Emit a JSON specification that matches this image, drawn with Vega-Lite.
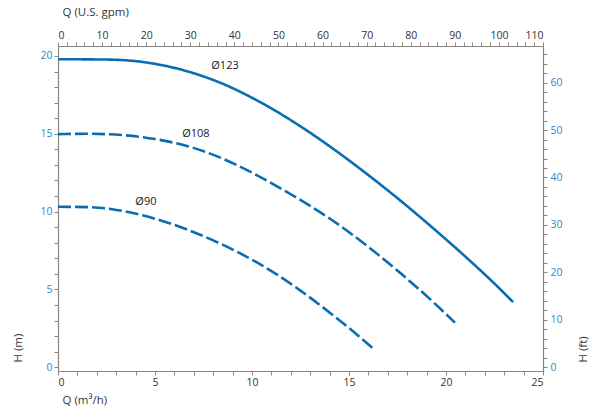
{
  "$schema": "https://vega.github.io/schema/vega-lite/v6.json",
  "width": 485,
  "height": 325,
  "autosize": {"type": "none"},
  "padding": {"left": 58, "top": 46, "right": 53, "bottom": 39},
  "background": "white",
  "config": {
    "view": {"stroke": null},
    "font": "Open Sans",
    "axis": {
      "grid": false,
      "domainColor": "#8a8585",
      "tickColor": "#8a8585",
      "domainWidth": 1.2,
      "tickWidth": 1,
      "tickSize": 4,
      "labelFont": "Open Sans",
      "labelFontSize": 10.5,
      "titleFont": "Open Sans",
      "titleFontWeight": "normal",
      "titleFontSize": 11.5,
      "titleColor": "#333333",
      "labelOverlap": false,
      "labelPadding": 2
    }
  },
  "datasets": {
    "curves": [
      {"curve": "Ø123", "Q": 0, "H": 19.79},
      {"curve": "Ø123", "Q": 2.44, "H": 19.77},
      {"curve": "Ø123", "Q": 3.98, "H": 19.67},
      {"curve": "Ø123", "Q": 5.01, "H": 19.49},
      {"curve": "Ø123", "Q": 6.73, "H": 18.99},
      {"curve": "Ø123", "Q": 8.44, "H": 18.24},
      {"curve": "Ø123", "Q": 10.16, "H": 17.21},
      {"curve": "Ø123", "Q": 11.88, "H": 15.97},
      {"curve": "Ø123", "Q": 14.19, "H": 14.03},
      {"curve": "Ø123", "Q": 15.91, "H": 12.43},
      {"curve": "Ø123", "Q": 17.63, "H": 10.73},
      {"curve": "Ø123", "Q": 19.34, "H": 8.93},
      {"curve": "Ø123", "Q": 21.06, "H": 7.04},
      {"curve": "Ø123", "Q": 22.79, "H": 5.02},
      {"curve": "Ø123", "Q": 23.46, "H": 4.18},
      {"curve": "Ø108", "Q": 0, "H": 14.98},
      {"curve": "Ø108", "Q": 1.58, "H": 15.0},
      {"curve": "Ø108", "Q": 3.3, "H": 14.92},
      {"curve": "Ø108", "Q": 5.01, "H": 14.66},
      {"curve": "Ø108", "Q": 6.73, "H": 14.19},
      {"curve": "Ø108", "Q": 8.44, "H": 13.43},
      {"curve": "Ø108", "Q": 10.16, "H": 12.40},
      {"curve": "Ø108", "Q": 11.88, "H": 11.20},
      {"curve": "Ø108", "Q": 14.19, "H": 9.40},
      {"curve": "Ø108", "Q": 15.91, "H": 7.82},
      {"curve": "Ø108", "Q": 17.63, "H": 6.07},
      {"curve": "Ø108", "Q": 19.34, "H": 4.19},
      {"curve": "Ø108", "Q": 20.46, "H": 2.87},
      {"curve": "Ø90", "Q": 0, "H": 10.31},
      {"curve": "Ø90", "Q": 1.58, "H": 10.29},
      {"curve": "Ø90", "Q": 3.3, "H": 10.05},
      {"curve": "Ø90", "Q": 5.01, "H": 9.54},
      {"curve": "Ø90", "Q": 6.73, "H": 8.81},
      {"curve": "Ø90", "Q": 8.44, "H": 7.90},
      {"curve": "Ø90", "Q": 10.16, "H": 6.80},
      {"curve": "Ø90", "Q": 11.53, "H": 5.76},
      {"curve": "Ø90", "Q": 12.48, "H": 4.94},
      {"curve": "Ø90", "Q": 14.19, "H": 3.33},
      {"curve": "Ø90", "Q": 15.05, "H": 2.47},
      {"curve": "Ø90", "Q": 16.25, "H": 1.20}
    ],
    "labels": [
      {"label": "Ø123", "Q": 8.61, "H": 19.36},
      {"label": "Ø108", "Q": 7.11, "H": 14.96},
      {"label": "Ø90", "Q": 4.53, "H": 10.63}
    ],
    "imperial": [
      {"gpm": 0, "ft": 0},
      {"gpm": 110, "ft": 66}
    ]
  },
  "layer": [
    {
      "data": {"name": "curves"},
      "mark": {"type": "line", "interpolate": "monotone", "strokeWidth": 2.6, "color": "#0a6db2", "clip": true},
      "encoding": {
        "x": {
          "field": "Q", "type": "quantitative",
          "scale": {"domain": [0, 25], "nice": false, "zero": false},
          "axis": {
            "orient": "bottom",
            "values": [0,1,2,3,4,5,6,7,8,9,10,11,12,13,14,15,16,17,18,19,20,21,22,23,24,25],
            "labelExpr": "datum.value % 5 === 0 ? datum.label : ''",
            "labelColor": "#333333",
            "title": "Q  (m³/h)",
            "titleAnchor": "start",
            "titleAlign": "left",
            "titleBaseline": "middle",
            "titleX": 4,
            "titleY": 29
          }
        },
        "y": {
          "field": "H", "type": "quantitative",
          "scale": {"domain": [-0.24, 20.64], "nice": false, "zero": false},
          "axis": {
            "orient": "left",
            "values": [0,1,2,3,4,5,6,7,8,9,10,11,12,13,14,15,16,17,18,19,20],
            "labelExpr": "datum.value % 5 === 0 ? datum.label : ''",
            "labelColor": "#2f87cc",
            "title": "H  (m)",
            "titleAngle": -90,
            "titleAnchor": "start",
            "titleAlign": "left",
            "titleBaseline": "middle",
            "titleX": -40,
            "titleY": 316
          }
        },
        "detail": {"field": "curve", "type": "nominal"},
        "strokeDash": {
          "field": "curve", "type": "nominal",
          "scale": {"domain": ["Ø123", "Ø108", "Ø90"], "range": [[1, 0], [13, 4], [13, 4]]},
          "legend": null
        }
      }
    },
    {
      "data": {"name": "labels"},
      "mark": {"type": "text", "fontSize": 11, "color": "#222222", "font": "Open Sans"},
      "encoding": {
        "x": {"field": "Q", "type": "quantitative", "scale": {"domain": [0, 25], "nice": false, "zero": false}, "axis": null},
        "y": {"field": "H", "type": "quantitative", "scale": {"domain": [-0.24, 20.64], "nice": false, "zero": false}, "axis": null},
        "text": {"field": "label"}
      }
    },
    {
      "data": {"name": "imperial"},
      "mark": {"type": "point", "opacity": 0},
      "encoding": {
        "x": {
          "field": "gpm", "type": "quantitative",
          "scale": {"domain": [0, 110], "nice": false, "zero": false},
          "axis": {
            "orient": "top",
            "values": [0,2,4,6,8,10,12,14,16,18,20,22,24,26,28,30,32,34,36,38,40,42,44,46,48,50,52,54,56,58,60,62,64,66,68,70,72,74,76,78,80,82,84,86,88,90,92,94,96,98,100,102,104,106,108,110],
            "labelExpr": "datum.value % 10 === 0 ? datum.label : ''",
            "labelColor": "#333333",
            "title": "Q  (U.S. gpm)",
            "titleAnchor": "start",
            "titleAlign": "left",
            "titleBaseline": "middle",
            "titleX": 4,
            "titleY": -34
          }
        },
        "y": {
          "field": "ft", "type": "quantitative",
          "scale": {"domain": [-0.787, 67.716], "nice": false, "zero": false},
          "axis": {
            "orient": "right",
            "values": [0,2,4,6,8,10,12,14,16,18,20,22,24,26,28,30,32,34,36,38,40,42,44,46,48,50,52,54,56,58,60,62,64,66],
            "labelExpr": "datum.value % 10 === 0 ? datum.label : ''",
            "labelColor": "#2f87cc",
            "labelPadding": 3,
            "title": "H  (ft)",
            "titleAngle": -90,
            "titleAnchor": "start",
            "titleAlign": "left",
            "titleBaseline": "middle",
            "titleX": 40,
            "titleY": 316
          }
        }
      }
    }
  ],
  "resolve": {"scale": {"x": "independent", "y": "independent", "strokeDash": "independent"}}
}
